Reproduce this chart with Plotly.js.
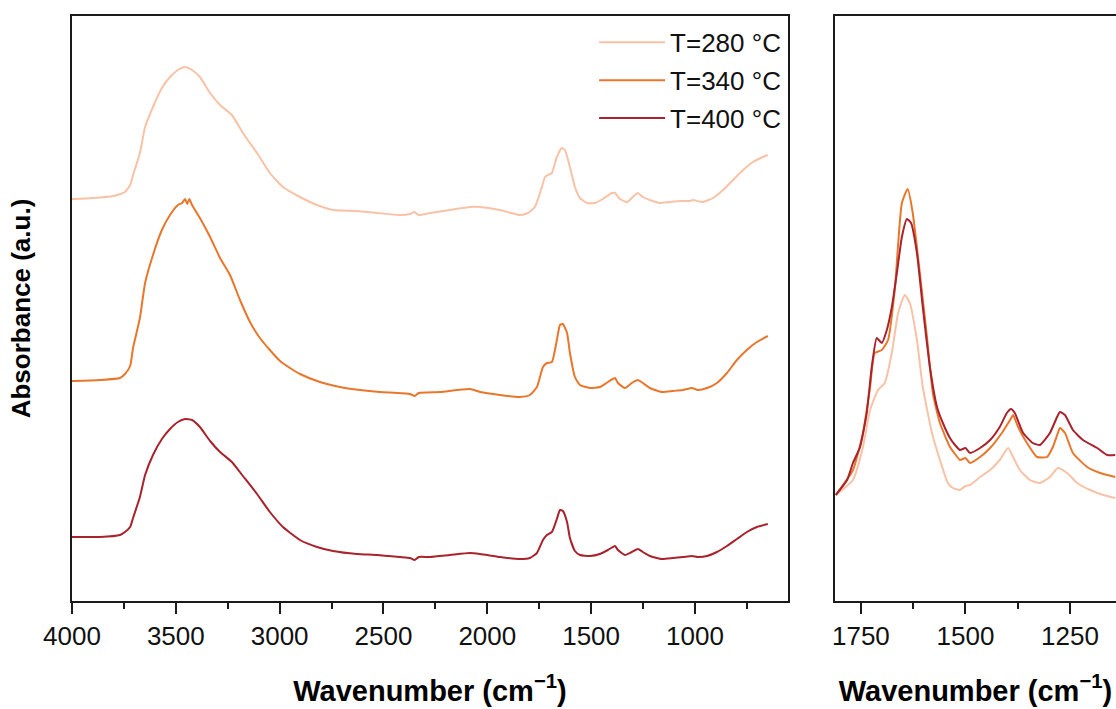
<!DOCTYPE html>
<html>
<head>
<meta charset="utf-8">
<script src="https://cdn.plot.ly/plotly-3.0.1.min.js"></script>
<style>html,body{margin:0;padding:0;background:#fff;}#chart{width:1116px;height:709px;}</style>
</head>
<body>
<div id="chart"></div>
<script>
// ---- Series labels and colours ----
const seriesNames = ["T=280 °C", "T=340 °C", "T=400 °C"];
const seriesColors = ["#F8C2A6", "#E8762B", "#A8232B"];

// ---- Full spectra (left panel), wavenumber in cm-1, absorbance in a.u. (stacked) ----
const wn280 = [4000,3900,3800,3745,3720,3706,3673,3648,3610,3567,3528,3490,3456,3422,3384,3335,3287,3230,3177,3109,3047,2984,2902,2820,2743,2628,2531,2421,2372,2350,2330,2276,2180,2084,2035,1939,1843,1804,1771,1737,1722,1708,1689,1665,1641,1626,1602,1578,1554,1520,1482,1443,1400,1385,1361,1327,1299,1275,1251,1217,1169,1121,1072,1024,1010,962,913,865,817,768,721,673,649];
const abs280 = [4.02,4.03,4.05,4.09,4.16,4.26,4.48,4.74,4.94,5.13,5.24,5.31,5.34,5.31,5.24,5.08,4.96,4.86,4.68,4.48,4.28,4.14,4.04,3.96,3.91,3.90,3.88,3.86,3.87,3.89,3.86,3.88,3.91,3.94,3.94,3.91,3.86,3.88,3.94,4.14,4.24,4.26,4.28,4.44,4.53,4.51,4.34,4.14,4.03,3.98,3.98,4.02,4.08,4.08,4.02,3.99,4.04,4.08,4.04,4.01,3.98,3.99,4.00,4.00,4.01,3.99,4.03,4.11,4.21,4.31,4.39,4.44,4.46];

const wn340 = [4000,3865,3769,3745,3720,3706,3673,3648,3610,3567,3528,3490,3470,3456,3445,3435,3422,3384,3335,3287,3239,3191,3143,3095,3047,2998,2950,2902,2806,2710,2613,2517,2372,2350,2330,2228,2084,2035,1939,1843,1795,1761,1732,1713,1689,1665,1650,1636,1616,1602,1578,1554,1506,1458,1419,1385,1371,1337,1304,1275,1251,1217,1159,1106,1058,1014,986,942,894,846,798,750,702,649];
const abs340 = [2.20,2.21,2.23,2.27,2.35,2.53,2.83,3.18,3.46,3.71,3.86,3.96,3.98,4.02,3.97,4.02,3.96,3.83,3.64,3.43,3.26,3.01,2.79,2.63,2.51,2.40,2.33,2.27,2.19,2.14,2.11,2.09,2.07,2.05,2.08,2.09,2.12,2.09,2.06,2.04,2.06,2.14,2.34,2.38,2.39,2.61,2.76,2.77,2.68,2.48,2.24,2.16,2.13,2.14,2.19,2.23,2.18,2.13,2.18,2.21,2.18,2.13,2.09,2.10,2.11,2.13,2.11,2.13,2.18,2.28,2.41,2.51,2.59,2.65];

const wn400 = [4000,3865,3769,3745,3720,3706,3673,3648,3610,3567,3528,3490,3456,3422,3384,3335,3287,3230,3177,3109,3047,2984,2902,2820,2743,2628,2531,2421,2372,2350,2330,2276,2180,2084,2035,1939,1843,1795,1761,1732,1713,1689,1665,1650,1636,1616,1602,1578,1554,1506,1458,1419,1385,1371,1337,1304,1275,1251,1217,1159,1106,1058,1014,986,942,894,846,798,750,702,649];
const abs400 = [0.64,0.64,0.66,0.69,0.74,0.83,1.04,1.26,1.46,1.62,1.72,1.79,1.82,1.81,1.74,1.60,1.49,1.39,1.25,1.07,0.89,0.74,0.61,0.54,0.50,0.47,0.46,0.44,0.43,0.41,0.44,0.44,0.46,0.48,0.47,0.44,0.42,0.43,0.48,0.61,0.66,0.69,0.82,0.91,0.90,0.79,0.63,0.50,0.46,0.45,0.47,0.51,0.55,0.51,0.46,0.49,0.52,0.49,0.45,0.42,0.43,0.44,0.45,0.44,0.45,0.49,0.55,0.62,0.69,0.74,0.77];

// ---- Zoomed region (right panel, 1810-1140 cm-1) ----
const wnZ280 = [1810,1769,1745,1728,1709,1693,1676,1661,1645,1633,1616,1602,1580,1561,1542,1530,1513,1500,1489,1465,1441,1418,1398,1386,1370,1346,1322,1298,1279,1257,1233,1202,1170,1142];
const absZ280 = [1.06,1.21,1.54,1.91,2.11,2.18,2.48,2.88,3.06,2.98,2.61,2.14,1.68,1.41,1.18,1.13,1.11,1.15,1.16,1.24,1.31,1.41,1.53,1.44,1.31,1.21,1.18,1.24,1.33,1.28,1.18,1.11,1.06,1.03];

const wnZ340 = [1810,1769,1745,1728,1717,1700,1685,1669,1652,1638,1626,1609,1592,1578,1561,1537,1525,1513,1500,1489,1465,1441,1413,1389,1386,1374,1353,1329,1305,1291,1279,1274,1262,1243,1209,1178,1142];
const absZ340 = [1.06,1.31,1.68,2.14,2.48,2.51,2.61,3.11,3.98,4.12,3.88,3.28,2.64,2.08,1.78,1.54,1.47,1.41,1.43,1.38,1.44,1.53,1.68,1.84,1.86,1.74,1.58,1.44,1.44,1.54,1.68,1.73,1.68,1.48,1.34,1.28,1.24];

const wnZ400 = [1810,1783,1769,1752,1736,1724,1712,1700,1688,1676,1664,1652,1640,1630,1616,1602,1585,1568,1554,1537,1525,1513,1500,1489,1465,1441,1418,1401,1391,1382,1362,1339,1322,1298,1281,1274,1262,1243,1219,1185,1161,1142];
const absZ400 = [1.06,1.21,1.38,1.54,1.88,2.34,2.63,2.58,2.71,2.94,3.28,3.64,3.82,3.78,3.48,2.94,2.34,1.94,1.78,1.63,1.56,1.51,1.53,1.48,1.53,1.61,1.74,1.88,1.92,1.88,1.68,1.58,1.56,1.68,1.84,1.89,1.86,1.71,1.61,1.53,1.46,1.46];

// ---- Axis text ----
const xTitleText = "Wavenumber (cm<sup>−1</sup>)";
const yTitleText = "Absorbance (a.u.)";

const mainX = [wn280, wn340, wn400];
const mainY = [abs280, abs340, abs400];
const zoomX = [wnZ280, wnZ340, wnZ400];
const zoomY = [absZ280, absZ340, absZ400];

const traces = [];
for (let i = 0; i < 3; i++) {
  traces.push({
    x: mainX[i], y: mainY[i], type: 'scatter', mode: 'lines',
    name: seriesNames[i], legendgroup: 'g' + i,
    line: {color: seriesColors[i], width: 2, shape: 'spline', smoothing: 0.5},
    xaxis: 'x', yaxis: 'y', showlegend: true
  });
}
for (let i = 0; i < 3; i++) {
  traces.push({
    x: zoomX[i], y: zoomY[i], type: 'scatter', mode: 'lines',
    name: seriesNames[i], legendgroup: 'g' + i,
    line: {color: seriesColors[i], width: 2, shape: 'spline', smoothing: 0.5},
    xaxis: 'x2', yaxis: 'y2', showlegend: false
  });
}

const axisColor = '#1a1a1a';
const tickFont = {family: 'Liberation Sans, Arial, sans-serif', size: 26, color: '#111'};
const titleFont = {family: 'Liberation Sans, Arial, sans-serif', size: 29, color: '#000', weight: 'bold'};

const layout = {
  width: 1116, height: 709,
  margin: {l: 72, r: 0, t: 16, b: 108},
  paper_bgcolor: '#fff', plot_bgcolor: '#fff',
  showlegend: true,
  legend: {
    x: 0.684, xanchor: 'right', y: 0.995, yanchor: 'top',
    bgcolor: 'rgba(0,0,0,0)', borderwidth: 0,
    font: {family: 'Liberation Sans, Arial, sans-serif', size: 26, color: '#111'},
    itemwidth: 66, tracegroupgap: 1
  },
  xaxis: {
    domain: [0, 0.6858], range: [4000, 552], autorange: false,
    dtick: 500, tick0: 0, ticks: 'outside', ticklen: 11, tickwidth: 2, tickcolor: axisColor,
    minor: {dtick: 250, tick0: 0, ticks: 'outside', ticklen: 6, tickwidth: 2, tickcolor: axisColor},
    showline: true, linewidth: 2, linecolor: axisColor, mirror: true,
    showgrid: false, zeroline: false, tickfont: tickFont,
    title: {text: xTitleText, font: titleFont, standoff: 30},
    anchor: 'y'
  },
  yaxis: {
    domain: [0, 1], range: [0, 5.85], autorange: false,
    showticklabels: false, ticks: '', showgrid: false, zeroline: false,
    showline: true, linewidth: 2, linecolor: axisColor, mirror: true,
    title: {text: yTitleText, font: {family: 'Liberation Sans, Arial, sans-serif', size: 26, color: '#000', weight: 'bold'}, standoff: 32},
    anchor: 'x'
  },
  xaxis2: {
    domain: [0.7308, 1], range: [1812, 1140], autorange: false,
    dtick: 250, tick0: 0, ticks: 'outside', ticklen: 11, tickwidth: 2, tickcolor: axisColor,
    minor: {dtick: 125, tick0: 0, ticks: 'outside', ticklen: 6, tickwidth: 2, tickcolor: axisColor},
    showline: true, linewidth: 2, linecolor: axisColor, mirror: true,
    showgrid: false, zeroline: false, tickfont: tickFont,
    title: {text: xTitleText, font: titleFont, standoff: 30},
    anchor: 'y2'
  },
  yaxis2: {
    domain: [0, 1], range: [0, 5.85], autorange: false,
    showticklabels: false, ticks: '', showgrid: false, zeroline: false,
    showline: true, linewidth: 2, linecolor: axisColor, mirror: true,
    anchor: 'x2'
  }
};

Plotly.newPlot('chart', traces, layout, {displayModeBar: false, staticPlot: true});
</script>
</body>
</html>
